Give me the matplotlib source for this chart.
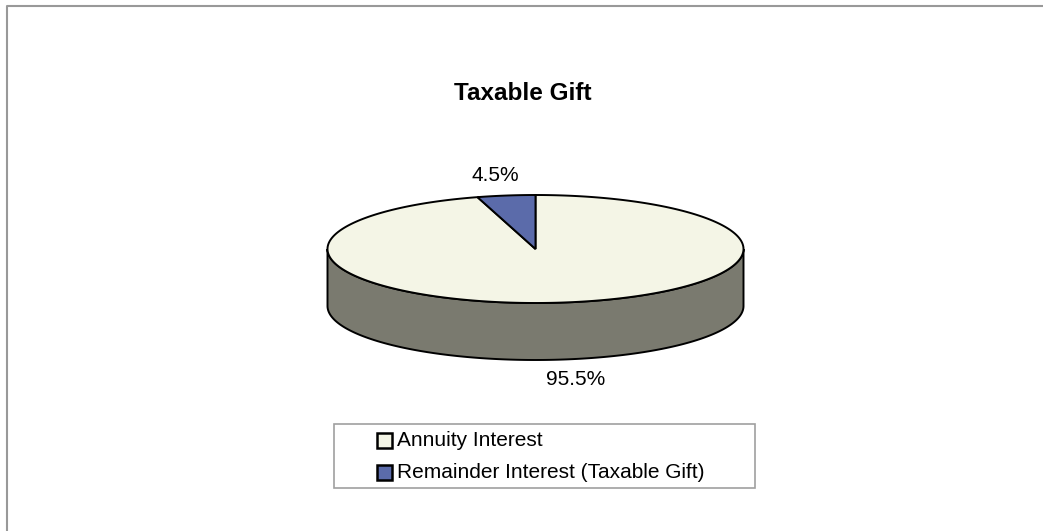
import numpy as np
import matplotlib.pyplot as plt
from matplotlib.patches import Polygon, Rectangle

plt.rcParams['font.family'] = ['Liberation Sans', 'DejaVu Sans']

labels = ['Annuity Interest', 'Remainder Interest (Taxable Gift)']
values = [95.5, 4.5]
colors = ['#F4F5E6', '#5B6BAA']
side_colors = ['#7A7A6F', '#2E3656']
title = 'Taxable Gift'

fig = plt.figure(figsize=(10.43, 5.31), dpi=100)
ax = fig.add_axes([0, 0, 1, 1])
ax.set_xlim(0, 1043)
ax.set_ylim(531, 0)
ax.axis('off')

# frame (top and left only visible)
ax.plot([7, 7, 1042], [531, 6, 6], color='#999999', lw=1.5)

cx, cy, a, b, depth = 535.5, 249, 208, 54, 57

def pt(t, dy=0):
    return cx + a * np.cos(t), cy - b * np.sin(t) + dy

fracs = np.array(values) / sum(values)
start = 90.0
wedges = []
for f in fracs:
    end = start - f * 360
    wedges.append((end, start))
    start = end

# side walls (front half only)
for (t0, t1), sc in zip(wedges, side_colors):
    for k in range(-1, 2):
        lo = max(t0, 180 + 360 * k)
        hi = min(t1, 360 + 360 * k)
        if hi <= lo:
            continue
        ts = np.radians(np.linspace(lo, hi, 200))
        top = np.column_stack(pt(ts))
        bot = np.column_stack(pt(ts[::-1], depth))
        ax.add_patch(Polygon(np.vstack([top, bot]), closed=True, fc=sc,
                             ec='black', lw=1.4, zorder=2))

# top faces
for (t0, t1), c in zip(wedges, colors):
    ts = np.radians(np.linspace(t0, t1, 400))
    xy = np.vstack([[cx, cy], np.column_stack(pt(ts))])
    ax.add_patch(Polygon(xy, closed=True, fc=c, ec='black', lw=1.4,
                         joinstyle='miter', zorder=3))

# percentage labels
for (t0, t1), v in zip(wedges, values):
    m = np.radians((t0 + t1) / 2)
    k = 1.37
    x = cx + a * k * np.cos(m)
    y = cy - b * k * np.sin(m) + (depth if np.sin(m) < 0 else 0)
    ax.text(x, y, f'{v:.1f}%', ha='center', va='center', fontsize=15, zorder=4)

ax.text(523, 93, title, ha='center', va='center', fontsize=17.5,
        fontweight='bold')

# legend
ax.add_patch(Rectangle((334, 424), 421, 64, fc='white', ec='#a0a0a0', lw=1.2))
for i, (lab, c) in enumerate(zip(labels, colors)):
    y = 440 + 32 * i
    ax.add_patch(Rectangle((377, y - 7.5), 15, 15, fc=c, ec='black', lw=1.8))
    ax.text(397, y, lab, ha='left', va='center', fontsize=15)

fig.savefig('out.png', dpi=100)
